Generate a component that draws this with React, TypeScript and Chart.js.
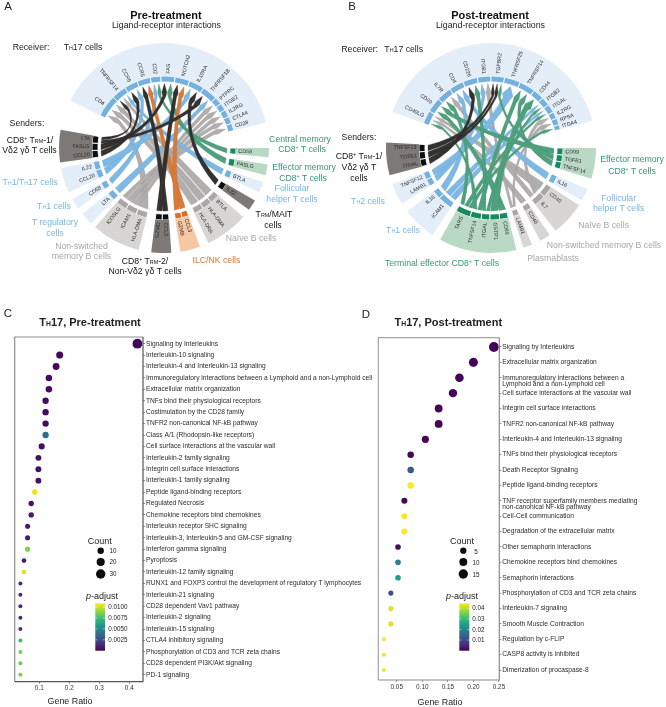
import React, { useEffect, useRef } from 'react';
import { Chart, registerables } from 'chart.js';
Chart.register(...registerables);

const FONT = '"Liberation Sans", Arial, sans-serif';

// ---------- Panel A data ----------
const receiverGenesA = ['CD4','TNFRSF14','CCR6','CCR5','CD2','FAS','NOTCH2','IL10RA','TNFRSF1B','PTPRC','ITGB2','IL2RG','CTLA4','CD28'];
const receiverSpansA = [18,12,11,11,8.5,11.5,12,12.5,12.5,6,6,6,6,6];
const receiverStartA = -63;
const senderKindsA = ['green','green','blue','dark','grey','orange','dark','grey','blue','blue','blue','dark'];
const senderGenesA = [['CD58'],['FASLG'],['BTLA'],['IL22'],['BTLA','HLA-DMA','HLA-DRA'],['CCL3','GZMB'],['CCL3','GZMD'],['HLA-DMA','ICAM1','ICOSLG'],['LTA'],['CD58'],['CCL20','IL22'],['CCL20','FASLG','LTA']];
const senderSpansA = [[5],[6],[6],[6],[8,8,8],[5.5,5.5],[5.5,5.5],[9,9,9],[7],[6],[7,7],[6,6,6]];
const senderGapsA = [14,4,4,5,5,5,5,7,3,4,4,3];
const linksA: [number,string,string][] = [
  [0,'CD58','CD2'],[1,'FASLG','FAS'],[2,'BTLA','TNFRSF14'],[3,'IL22','IL10RA'],
  [4,'BTLA','TNFRSF14'],[4,'HLA-DMA','CD4'],[4,'HLA-DRA','CD4'],
  [5,'CCL3','CCR5'],[5,'GZMB','NOTCH2'],[6,'CCL3','CCR5'],[6,'GZMD','NOTCH2'],
  [7,'HLA-DMA','CD4'],[7,'ICAM1','PTPRC'],[7,'ICAM1','ITGB2'],[7,'ICAM1','IL2RG'],[7,'ICOSLG','CTLA4'],[7,'ICOSLG','CD28'],
  [8,'LTA','TNFRSF1B'],[9,'CD58','CD2'],[10,'CCL20','CCR6'],[10,'IL22','IL10RA'],
  [11,'CCL20','CCR6'],[11,'FASLG','FAS'],[11,'LTA','TNFRSF1B'],[11,'LTA','TNFRSF14'],
];

// ---------- Panel B data ----------
const receiverGenesB = ['CD40LG','CD99','IL7R','CD4','CD226','ITGB1','TGFBR2','TNFRSF25','TNFRSF14','CD44','ITGB2','ITGAL','IL2RG','RPSA','ITGA4'];
const receiverSpansB = [11,12,12,12,12,11,11,13,13,9,7,7,5.5,5.5,4];
const receiverStartB = -70;
const senderKindsB = ['green','blue','grey','grey','grey','green','blue','blue','dark'];
const senderGenesB = [['CD99','TGFB1','TNFSF14'],['IL16'],['CD40','IL7'],['CD40'],['LAMB1'],['CD99','GSTP1','ITGAL','TNFSF14','TARS'],['ICAM1','IL16'],['LAMB1','TNFSF12'],['ITGAL','TGFB1','TNFSF13']];
const senderSpansB = [[5.7,5.7,5.6],[7],[9.5,9.5],[6],[5],[7,8,7,9,12],[12,7],[6,6],[6,6,6]];
const senderGapsB = [15,6,3,4,5,4,5,5,5];
const linksB: [number,string,string][] = [
  [0,'CD99','CD99'],[0,'TGFB1','TGFBR2'],[0,'TNFSF14','TNFRSF14'],[1,'IL16','CD4'],
  [2,'CD40','CD40LG'],[2,'IL7','IL7R'],[2,'IL7','IL2RG'],[3,'CD40','CD40LG'],[4,'LAMB1','ITGB1'],[4,'LAMB1','RPSA'],
  [5,'CD99','CD99'],[5,'GSTP1','CD44'],[5,'ITGAL','ITGB2'],[5,'ITGAL','CD226'],[5,'TNFSF14','TNFRSF14'],[5,'TNFSF14','CD40LG'],[5,'TARS','IL7R'],[5,'TARS','ITGAL'],[5,'TARS','ITGA4'],
  [6,'ICAM1','ITGB2'],[6,'ICAM1','ITGAL'],[6,'IL16','CD4'],[7,'LAMB1','ITGB1'],[7,'TNFSF12','TNFRSF25'],
  [8,'ITGAL','CD226'],[8,'TGFB1','TGFBR2'],[8,'TNFSF13','TGFBR2'],
];

// ---------- Panel C data ----------
const categoriesC = ['Signaling by Interleukins','Interleukin-10 signaling','Interleukin-4 and Interleukin-13 signaling','Immunoregulatory interactions between a Lymphoid and a non-Lymphoid cell','Extracellular matrix organization','TNFs bind their physiological receptors','Costimulation by the CD28 family','TNFR2 non-canonical NF-kB pathway','Class A/1 (Rhodopsin-like receptors)','Cell surface interactions at the vascular wall','Interleukin-2 family signaling','Integrin cell surface interactions','Interleukin-1 family signaling','Peptide ligand-binding receptors','Regulated Necrosis','Chemokine receptors bind chemokines','Interleukin receptor SHC signaling','Interleukin-3, Interleukin-5 and GM-CSF signaling','Interferon gamma signaling','Pyroptosis','Interleukin-12 family signaling','RUNX1 and FOXP3 control the development of regulatory T lymphocytes','Interleukin-21 signaling','CD28 dependent Vav1 pathway','Interleukin-2 signaling','Interleukin-15 signaling','CTLA4 inhibitory signaling','Phosphorylation of CD3 and TCR zeta chains','CD28 dependent PI3K/Akt signaling','PD-1 signaling'];
const ratioC = [0.427,0.168,0.156,0.132,0.132,0.121,0.121,0.121,0.121,0.108,0.097,0.097,0.097,0.085,0.073,0.073,0.061,0.061,0.061,0.049,0.049,0.037,0.037,0.037,0.037,0.037,0.037,0.037,0.037,0.037];
const countC = [35,14,13,11,11,10,10,10,10,9,8,8,8,7,6,6,5,5,5,4,4,3,3,3,3,3,3,3,3,3];
const padjC = [0.0002,0.0002,0.0002,0.0003,0.0003,0.0003,0.0003,0.0003,0.0038,0.0005,0.0005,0.0005,0.0005,0.0106,0.0006,0.0007,0.0008,0.0008,0.0088,0.001,0.0104,0.0013,0.0013,0.0013,0.0013,0.0013,0.0074,0.0085,0.0085,0.0087];
const xTicksC = [0.1,0.2,0.3,0.4];
const sizeLegendC = [10,20,30];
const barTicksC = [0.01,0.0075,0.005,0.0025];

// ---------- Panel D data ----------
const categoriesD: (string|string[])[] = ['Signaling by Interleukins','Extracellular matrix organization',['','Immunoregulatory interactions between a','Lymphoid and a non-Lymphoid cell'],'Cell surface interactions at the vascular wall','Integrin cell surface interactions','TNFR2 non-canonical NF-kB pathway','Interleukin-4 and Interleukin-13 signaling','TNFs bind their physiological receptors','Death Receptor Signaling','Peptide ligand-binding receptors',['','TNF receptor superfamily members mediating','non-canonical NF-kB pathway'],'Cell-Cell communication','Degradation of the extracellular matrix','Other semaphorin interactions','Chemokine receptors bind chemokines','Semaphorin interactions','Phosphorylation of CD3 and TCR zeta chains','Interleukin-7 signaling','Smooth Muscle Contraction','Regulation by c-FLIP','CASP8 activity is inhibited','Dimerization of procaspase-8'];
const ratioD = [0.24,0.2,0.1726,0.16,0.132,0.132,0.106,0.0773,0.0773,0.0773,0.065,0.065,0.065,0.0525,0.0525,0.0525,0.0385,0.0385,0.0385,0.025,0.025,0.025];
const countD = [18,15,13,12,10,10,8,6,6,6,5,5,5,4,4,4,3,3,3,2,2,2];
const padjD = [0.0005,0.0005,0.0005,0.0005,0.0005,0.0005,0.0005,0.001,0.0125,0.0445,0.001,0.0445,0.0445,0.002,0.019,0.025,0.011,0.0425,0.0425,0.044,0.044,0.044];
const xTicksD = [0.05,0.1,0.15,0.2,0.25];
const sizeLegendD = [5,10,15];
const barTicksD = [0.04,0.03,0.02,0.01];

const palette: Record<string,{sector:string;ring:string;ribbon:string;edge:string;rank:number}> = {
  grey:{sector:'#d7d6d5',ring:'#a9a7a5',ribbon:'#b1afad',edge:'#8f8d8b',rank:0},
  blue:{sector:'#e3eef9',ring:'#74b1df',ribbon:'#7fb8e3',edge:'#5f9ccb',rank:1},
  green:{sector:'#b9d9c5',ring:'#17895f',ribbon:'#4fa17e',edge:'#3c8a68',rank:2},
  orange:{sector:'#f6c8a2',ring:'#d8712b',ribbon:'#d97a37',edge:'#c2672a',rank:3},
  dark:{sector:'#7c7977',ring:'#0e0e0e',ribbon:'#343231',edge:'#1c1b1a',rank:4},
};

const viridisStops = ['#440154','#482878','#3e4989','#31688e','#26828e','#1f9e89','#35b779','#6ece58','#b5de2b','#fde725'];
function viridis(t: number) {
  const v = Math.max(0, Math.min(1, t)) * (viridisStops.length - 1);
  const i = Math.min(Math.floor(v), viridisStops.length - 2), f = v - i;
  const p = (h: string) => [1,3,5].map(k => parseInt(h.slice(k,k+2),16));
  const a = p(viridisStops[i]), b = p(viridisStops[i+1]);
  return `rgb(${a.map((x,k)=>Math.round(x+(b[k]-x)*f)).join(',')})`;
}

function makeChord(canvas: HTMLCanvasElement, d: any) {
  const R = 105, R_IN = 66, SECT = 33, RING = 6;
  const sectorData: number[] = [], sectorColor: string[] = [];
  const ringData: number[] = [], ringColor: string[] = [], ringEdge: string[] = [];
  const ringInfo: any[] = [];
  const sum = (a: number[]) => a.reduce((x,y)=>x+y,0);
  sectorData.push(sum(d.recSpans)); sectorColor.push(palette.blue.sector);
  d.recGenes.forEach((g: string,i: number)=>{
    ringData.push(d.recSpans[i]); ringColor.push(palette.blue.ring); ringEdge.push('#ffffff');
    ringInfo.push({gene:g,receiver:true,links:[]});
  });
  d.kinds.forEach((k: string,gi: number)=>{
    const gap = d.gaps[gi];
    sectorData.push(gap); sectorColor.push('rgba(0,0,0,0)');
    ringData.push(gap); ringColor.push('rgba(0,0,0,0)'); ringEdge.push('rgba(0,0,0,0)'); ringInfo.push(null);
    sectorData.push(sum(d.spans[gi])); sectorColor.push(palette[k].sector);
    d.genes[gi].forEach((g: string,j: number)=>{
      ringData.push(d.spans[gi][j]); ringColor.push(palette[k].ring); ringEdge.push('#ffffff');
      ringInfo.push({gene:g,group:gi,kind:k,links:[]});
    });
  });
  const rest = 360 - sum(sectorData);
  sectorData.push(rest); sectorColor.push('rgba(0,0,0,0)');
  ringData.push(rest); ringColor.push('rgba(0,0,0,0)'); ringEdge.push('rgba(0,0,0,0)'); ringInfo.push(null);

  const chordPlugin = {
    id:'chord',
    afterDatasetsDraw(chart: any) {
      const ctx = chart.ctx;
      const arcs = chart.getDatasetMeta(1).data;
      const cx = arcs[0].x, cy = arcs[0].y;
      const idx = (pred:(x:any)=>boolean)=>ringInfo.findIndex(x=>x&&pred(x));
      const mid = (i:number)=>(arcs[i].startAngle+arcs[i].endAngle)/2;
      ringInfo.forEach(x=>{ if(x) x.links=[]; });
      const ribbons = d.links.map((l:any)=>{
        const s = idx(x=>x.group===l[0]&&x.gene===l[1]);
        const r = idx(x=>x.receiver&&x.gene===l[2]);
        const rb:any = {s,r,kind:ringInfo[s].kind};
        ringInfo[s].links.push(rb); ringInfo[r].links.push(rb);
        return rb;
      });
      ringInfo.forEach((x,i)=>{
        if(!x) return;
        const key = x.receiver?'s':'r';
        x.links.sort((a:any,b:any)=>mid(b[key])-mid(a[key]));
        const a0 = arcs[i].startAngle, w = (arcs[i].endAngle-a0)/Math.max(1,x.links.length);
        x.links.forEach((rb:any,n:number)=>{
          const p0 = a0+w*n+w*0.07, p1 = a0+w*(n+1)-w*0.07;
          if(x.receiver){rb.t0=p0;rb.t1=p1;} else {rb.s0=p0;rb.s1=p1;}
        });
      });
      const P=(r:number,a:number)=>[cx+r*Math.cos(a),cy+r*Math.sin(a)];
      const K=0.5, F=0.75;
      ribbons.slice().sort((a:any,b:any)=>palette[a.kind].rank-palette[b.kind].rank).forEach((rb:any)=>{
        const w=rb.t1-rb.t0;
        const A0=P(63,rb.s0),A1=P(63,rb.s1);
        const N0=P(52,rb.t0+w*0.14),N1=P(52,rb.t1-w*0.14);
        const H0=P(56,rb.t0),H1=P(56,rb.t1),T=P(64.5,(rb.t0+rb.t1)/2);
        const mx=(A0[0]+A1[0]+N0[0]+N1[0])/4, my=(A0[1]+A1[1]+N0[1]+N1[1])/4;
        const Cx=cx+(mx-cx)*K, Cy=cy+(my-cy)*K;
        const ox=((A1[0]-A0[0])+(N0[0]-N1[0]))/4*F, oy=((A1[1]-A0[1])+(N0[1]-N1[1]))/4*F;
        ctx.beginPath();
        ctx.moveTo(A0[0],A0[1]);
        ctx.arc(cx,cy,63,rb.s0,rb.s1);
        ctx.quadraticCurveTo(Cx+ox,Cy+oy,N0[0],N0[1]);
        ctx.lineTo(H0[0],H0[1]);ctx.lineTo(T[0],T[1]);ctx.lineTo(H1[0],H1[1]);ctx.lineTo(N1[0],N1[1]);
        ctx.quadraticCurveTo(Cx-ox,Cy-oy,A0[0],A0[1]);
        ctx.closePath();
        ctx.fillStyle=palette[rb.kind].ribbon;
        ctx.strokeStyle=palette[rb.kind].edge;
        ctx.lineWidth=0.3;
        ctx.fill();ctx.stroke();
      });
      ctx.font=`5.3px ${FONT}`;
      ctx.fillStyle='#2b2b2b';
      ctx.textBaseline='middle';
      ringInfo.forEach((x,i)=>{
        if(!x) return;
        const a=mid(i),p=P(74.5,a);
        ctx.save();
        ctx.translate(p[0],p[1]);
        if(Math.cos(a)>=0){ctx.rotate(a);ctx.textAlign='left';}
        else{ctx.rotate(a+Math.PI);ctx.textAlign='right';}
        ctx.fillText(x.gene,0,0);
        ctx.restore();
      });
    },
  };
  return new Chart(canvas,{
    type:'doughnut',
    data:{datasets:[
      {data:sectorData,backgroundColor:sectorColor,borderWidth:0,weight:SECT},
      {data:ringData,backgroundColor:ringColor,borderColor:ringEdge,borderWidth:0.9,weight:RING},
    ]},
    options:{
      responsive:false,animation:false,
      rotation:d.start,circumference:360,radius:R,cutout:`${R_IN/R*100}%`,
      layout:{padding:0},
      plugins:{legend:{display:false},tooltip:{enabled:false}},
    },
    plugins:[chordPlugin],
  } as any);
}

function makeDots(canvas: HTMLCanvasElement, d: any) {
  const rOf=(c:number)=>2+2.9*Math.pow((c-d.cMin)/(d.cMax-d.cMin),0.6);
  const frame = {
    id:'frame',
    afterDatasetsDraw(chart:any){
      const {ctx,chartArea:a}=chart;
      ctx.save();
      ctx.lineWidth=1.2;
      ctx.strokeStyle=d.frameLight;
      ctx.beginPath();ctx.moveTo(a.left,a.bottom);ctx.lineTo(a.left,a.top);ctx.lineTo(a.right,a.top);ctx.stroke();
      ctx.strokeStyle=d.frameDark;
      ctx.beginPath();ctx.moveTo(a.right,a.top);ctx.lineTo(a.right,a.bottom);ctx.lineTo(a.left,a.bottom);ctx.stroke();
      // size legend
      ctx.fillStyle='#0d0d0d';
      d.sizes.forEach((c:number,i:number)=>{
        ctx.beginPath();ctx.arc(d.legX-d.left,d.legY[i]-d.top,rOf(c)*1.02,0,Math.PI*2);ctx.fill();
      });
      // colour bar
      const x=d.bar[0]-d.left,y0=d.bar[1]-d.top,w=d.bar[2],h=d.bar[3];
      const g=ctx.createLinearGradient(0,y0+h,0,y0);
      viridisStops.forEach((c,i)=>g.addColorStop(i/(viridisStops.length-1),c));
      ctx.fillStyle=g;ctx.fillRect(x,y0,w,h);
      ctx.strokeStyle='#ffffff';ctx.lineWidth=0.5;
      d.barTicks.forEach((v:number)=>{
        const yy=y0+h-(v/d.pMax)*h;
        ctx.beginPath();ctx.moveTo(x,yy);ctx.lineTo(x+2,yy);ctx.moveTo(x+w-2,yy);ctx.lineTo(x+w,yy);ctx.stroke();
      });
      ctx.restore();
    },
  };
  const cats=d.categories;
  return new Chart(canvas,{
    type:'bubble',
    data:{datasets:[{
      data:cats.map((_:any,i:number)=>({x:d.ratio[i],y:i,r:rOf(d.count[i])})),
      backgroundColor:d.padj.map((p:number)=>viridis(p/d.pMax)),
      borderWidth:0,hoverBorderWidth:0,clip:false,
    }]},
    options:{
      responsive:false,animation:false,
      layout:{padding:{left:d.box[0]-d.left,top:d.box[1]-d.top,right:0,bottom:0}},
      plugins:{legend:{display:false},tooltip:{enabled:false}},
      scales:{
        x:{type:'linear',min:d.xMin,max:d.xMax,
          afterBuildTicks:(s:any)=>{s.ticks=d.xTicks.map((v:number)=>({value:v}));},
          afterFit:(s:any)=>{s.height=d.top+d.h-d.box[3];},
          border:{display:false},
          grid:{drawOnChartArea:false,drawTicks:true,tickLength:2,color:'#444',lineWidth:0.6},
          ticks:{autoSkip:false,maxRotation:0,padding:1,color:'#333',font:{size:6.4,family:FONT},
            callback:(v:number)=>d.xFmt(v)},
        },
        y:{type:'linear',position:'right',reverse:true,min:d.yMin,max:d.yMax,
          afterBuildTicks:(s:any)=>{s.ticks=cats.map((_:any,i:number)=>({value:i}));},
          afterFit:(s:any)=>{s.width=d.left+d.w-d.box[2];},
          border:{display:false},
          grid:{drawOnChartArea:false,drawTicks:true,tickLength:2,color:'#444',lineWidth:0.6},
          ticks:{autoSkip:false,padding:1,color:'#2b2b2b',font:{size:6.65,family:FONT,lineHeight:0.95},
            callback:(v:number)=>cats[v]},
        },
      },
    },
    plugins:[frame],
  } as any);
}

const S=({children}:any)=><span style={{fontSize:'0.62em'}}>{children}</span>;
const Sp=({children}:any)=><span style={{fontSize:'0.6em',verticalAlign:'0.45em',lineHeight:0}}>{children}</span>;
const L=({x,y,s=8.7,c='#222',b=false,i=false,children}:any)=>(
  <div style={{position:'absolute',left:x,top:y,transform:'translate(-50%,-50%)',whiteSpace:'nowrap',fontFamily:FONT,fontSize:s,color:c,fontWeight:b?700:400,fontStyle:i?'italic':'normal',lineHeight:1}}>{children}</div>
);

const GREEN='#2f9a76',BLUE='#78b6e2',GREY='#a8a7a6',ORANGE='#d8732e';

export default function App(){
  const a=useRef<HTMLCanvasElement>(null),b=useRef<HTMLCanvasElement>(null),c=useRef<HTMLCanvasElement>(null),d=useRef<HTMLCanvasElement>(null);
  useEffect(()=>{
    const charts=[
      makeChord(a.current!,{recGenes:receiverGenesA,recSpans:receiverSpansA,start:receiverStartA,kinds:senderKindsA,genes:senderGenesA,spans:senderSpansA,gaps:senderGapsA,links:linksA}),
      makeChord(b.current!,{recGenes:receiverGenesB,recSpans:receiverSpansB,start:receiverStartB,kinds:senderKindsB,genes:senderGenesB,spans:senderSpansB,gaps:senderGapsB,links:linksB}),
      makeDots(c.current!,{categories:categoriesC,ratio:ratioC,count:countC,padj:padjC,cMin:3,cMax:35,pMax:0.0109,
        left:0,top:310,w:376,h:397,box:[14.7,337,143,681.7],xMin:0.018,xMax:0.4457,yMin:-0.587,yMax:29.613,xTicks:xTicksC,xFmt:(v:number)=>v.toFixed(1),
        frameLight:'#8f8f8f',frameDark:'#555555',sizes:sizeLegendC,legX:100.7,legY:[550.7,562,574],bar:[95.3,603.3,9.7,47.4],barTicks:barTicksC}),
      makeDots(d.current!,{categories:categoriesD,ratio:ratioD,count:countD,padj:padjD,cMin:2,cMax:18,pMax:0.0447,
        left:370,top:310,w:296,h:397,box:[378.3,337.7,499.3,680],xMin:0.014,xMax:0.2506,yMin:-0.603,yMax:21.648,xTicks:xTicksD,xFmt:(v:number)=>v.toFixed(2),
        frameLight:'#a5a5a5',frameDark:'#8a8a8a',sizes:sizeLegendD,legX:463.3,legY:[550.7,562,574],bar:[459.3,603.3,10,47.4],barTicks:barTicksD}),
    ];
    return ()=>charts.forEach(x=>x.destroy());
  },[]);
  const abs=(l:number,t:number):any=>({position:'absolute',left:l,top:t});
  return (
    <div style={{position:'absolute',left:0,top:0,width:666,height:707,overflow:'hidden',background:'#fff'}}>
      <canvas ref={a} width={328} height={296} style={abs(0,0)}/>
      <canvas ref={b} width={316} height={296} style={abs(333,0)}/>
      <canvas ref={c} width={376} height={397} style={abs(0,310)}/>
      <canvas ref={d} width={296} height={397} style={abs(370,310)}/>

      <L x={8} y={7} s={11.5}>A</L>
      <L x={166} y={14.5} s={11} b c="#111">Pre-treatment</L>
      <L x={166.5} y={25} s={8.8}>Ligand-receptor interactions</L>
      <L x={31} y={47}>Receiver:</L>
      <L x={83} y={47}>T<S>H</S>17 cells</L>
      <L x={27} y={122.5}>Senders:</L>
      <L x={30} y={139.5} c="#111">CD8<Sp>+</Sp> T<S>RM</S>-1/</L>
      <L x={29.5} y={149.5} c="#111">Vδ2 γδ T cells</L>
      <L x={300} y={138.5} c={GREEN}>Central memory</L>
      <L x={302} y={149} c={GREEN}>CD8<Sp>+</Sp> T cells</L>
      <L x={304} y={167} c={GREEN}>Effector memory</L>
      <L x={303} y={177.5} c={GREEN}>CD8<Sp>+</Sp> T cells</L>
      <L x={292} y={188} c={BLUE}>Follicular</L>
      <L x={292} y={199} c={BLUE}>helper T cells</L>
      <L x={274} y={214} c="#111">T<S>RM</S>/MAIT</L>
      <L x={273} y={225} c="#111">cells</L>
      <L x={251} y={237.5} c={GREY}>Naïve B cells</L>
      <L x={216.5} y={260} c={ORANGE}>ILC/NK cells</L>
      <L x={145} y={260.5} c="#111">CD8<Sp>+</Sp> T<S>RM</S>-2/</L>
      <L x={145} y={271} c="#111">Non-Vδ2 γδ T cells</L>
      <L x={81.5} y={246} c={GREY}>Non-switched</L>
      <L x={81.5} y={256} c={GREY}>memory B cells</L>
      <L x={55} y={222} c={BLUE}>T regulatory</L>
      <L x={55} y={233} c={BLUE}>cells</L>
      <L x={54} y={206} c={BLUE}>T<S>H</S>1 cells</L>
      <L x={30} y={182} c={BLUE}>T<S>H</S>1/T<S>H</S>17 cells</L>

      <L x={352} y={7} s={11.5}>B</L>
      <L x={490} y={14.5} s={11} b c="#111">Post-treatment</L>
      <L x={490.5} y={25} s={8.8}>Ligand-receptor interactions</L>
      <L x={359.7} y={48.5}>Receiver:</L>
      <L x={403.7} y={48.5}>T<S>H</S>17 cells</L>
      <L x={359} y={137}>Senders:</L>
      <L x={359} y={156} c="#111">CD8<Sp>+</Sp> T<S>RM</S>-1/</L>
      <L x={359} y={167} c="#111">Vδ2 γδ T</L>
      <L x={359} y={177.5} c="#111">cells</L>
      <L x={632} y={159} c={GREEN}>Effector memory</L>
      <L x={632} y={170.5} c={GREEN}>CD8<Sp>+</Sp> T cells</L>
      <L x={618.7} y={197.5} c={BLUE}>Follicular</L>
      <L x={618.7} y={208} c={BLUE}>helper T cells</L>
      <L x={603.7} y={225} c={GREY}>Naïve B cells</L>
      <L x={604} y={245} c={GREY}>Non-switched memory B cells</L>
      <L x={553} y={257.5} c={GREY}>Plasmablasts</L>
      <L x={442} y={263} c={GREEN}>Terminal effector CD8<Sp>+</Sp> T cells</L>
      <L x={403} y={229.5} c={BLUE}>T<S>H</S>1 cells</L>
      <L x={368} y={201} c={BLUE}>T<S>H</S>2 cells</L>

      <L x={8} y={314} s={11.5}>C</L>
      <L x={90} y={321.7} s={11} b c="#222">T<S>H</S>17, Pre-treatment</L>
      <L x={99.7} y={540.7} s={9}>Count</L>
      {sizeLegendC.map((v,i)=><L key={v} x={113} y={[550.7,562,574][i]} s={6.3}>{v}</L>)}
      <L x={102} y={596} s={9}><i>p</i>-adjust</L>
      {barTicksC.map((v,i)=><L key={v} x={118} y={[607.3,618.3,629.3,640.3][i]} s={6.3}>{v.toFixed(4)}</L>)}
      <L x={70} y={701.3} s={8.9}>Gene Ratio</L>

      <L x={366} y={315} s={11.5}>D</L>
      <L x={448.3} y={321.7} s={11} b c="#222">T<S>H</S>17, Post-treatment</L>
      <L x={462} y={540.7} s={9}>Count</L>
      {sizeLegendD.map((v,i)=><L key={v} x={476} y={[551.5,563,575][i]} s={6.3}>{v}</L>)}
      <L x={462} y={596} s={9}><i>p</i>-adjust</L>
      {barTicksD.map((v,i)=><L key={v} x={478.5} y={[608.3,619,629.7,640.3][i]} s={6.3}>{v.toFixed(2)}</L>)}
      <L x={440} y={702} s={8.9}>Gene Ratio</L>
    </div>
  );
}
